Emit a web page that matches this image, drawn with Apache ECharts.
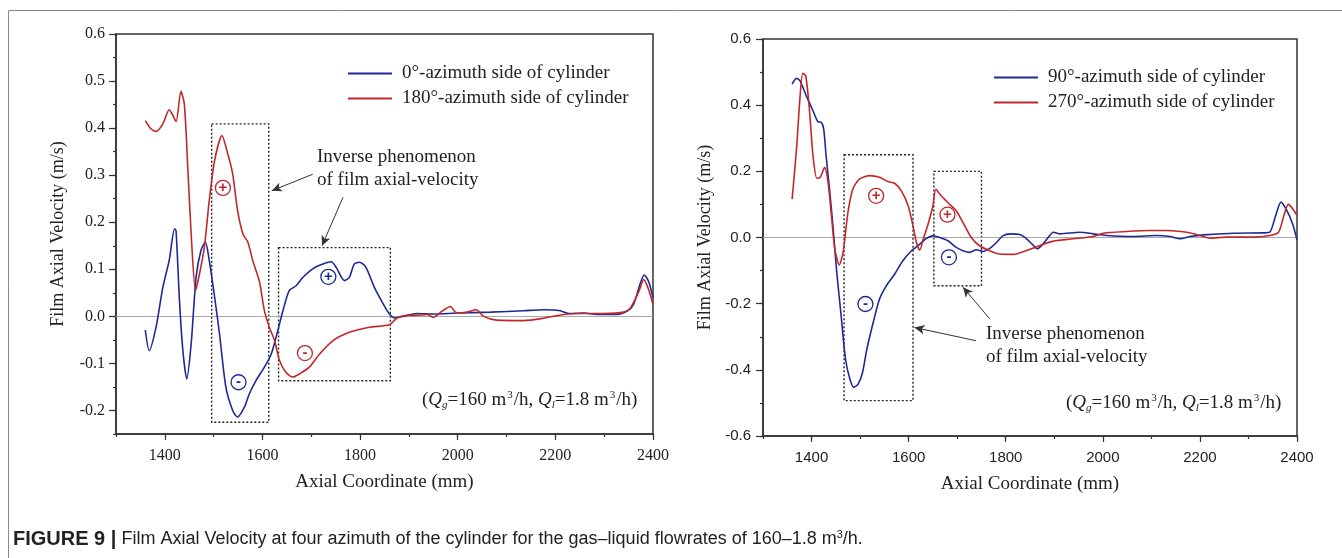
<!DOCTYPE html>
<html>
<head>
<meta charset="utf-8">
<script src="https://cdn.jsdelivr.net/npm/echarts@6/dist/echarts.min.js"></script>
<style>html,body{margin:0;padding:0;background:#fff}#c{width:1342px;height:558px}</style>
</head>
<body>
<div id="c"></div>
<script>
// ---- Data ----
const xTicks = [1400, 1600, 1800, 2000, 2200, 2400];
const yTicksLeft = [-0.2, -0.1, 0.0, 0.1, 0.2, 0.3, 0.4, 0.5, 0.6];
const yTicksRight = [-0.6, -0.4, -0.2, 0.0, 0.2, 0.4, 0.6];

const az0_x = [1360,1368,1382,1396,1409,1420,1423,1430,1437,1445,1454,1464,1474,1483,1491,1502,1512,1525,1539,1549,1563,1573,1587,1604,1618,1628,1642,1655,1669,1683,1703,1724,1741,1751,1768,1778,1788,1799,1812,1829,1847,1860,1870,1889,1916,1950,1998,2067,2135,2176,2210,2227,2258,2285,2326,2347,2360,2373,2382,2391,2400];
const az0_y = [-0.029,-0.073,-0.023,0.062,0.119,0.186,0.182,0.034,-0.073,-0.133,-0.058,0.083,0.140,0.158,0.119,0.041,-0.037,-0.150,-0.200,-0.214,-0.193,-0.165,-0.136,-0.108,-0.080,-0.044,0.012,0.055,0.065,0.083,0.101,0.111,0.116,0.104,0.076,0.083,0.111,0.115,0.104,0.062,0.027,0.005,-0.003,0.000,0.006,0.005,0.007,0.009,0.012,0.014,0.012,0.006,0.007,0.004,0.004,0.011,0.025,0.067,0.088,0.074,0.040];

const az180_x = [1360,1372,1382,1396,1409,1415,1423,1433,1440,1447,1454,1463,1471,1481,1491,1502,1517,1529,1539,1549,1560,1570,1580,1594,1604,1614,1625,1635,1648,1662,1676,1696,1717,1744,1778,1819,1860,1875,1896,1916,1937,1950,1968,1985,1998,2019,2038,2053,2080,2135,2176,2217,2258,2299,2340,2354,2371,2381,2391,2400];
const az180_y = [0.416,0.398,0.393,0.409,0.439,0.430,0.414,0.478,0.451,0.317,0.175,0.055,0.090,0.147,0.246,0.331,0.384,0.345,0.303,0.225,0.175,0.158,0.119,0.073,0.012,-0.023,-0.052,-0.094,-0.119,-0.129,-0.122,-0.108,-0.080,-0.052,-0.034,-0.023,-0.018,-0.004,0.002,0.002,0.004,-0.002,0.011,0.021,0.007,0.009,0.014,0.000,-0.008,-0.009,-0.004,0.004,0.006,0.006,0.009,0.018,0.053,0.078,0.057,0.025];

const az90_x = [1360,1369,1376,1389,1403,1413,1420,1425,1430,1437,1444,1452,1461,1470,1479,1487,1496,1505,1514,1527,1540,1554,1571,1588,1606,1623,1636,1650,1664,1681,1698,1712,1726,1739,1753,1767,1781,1794,1809,1829,1843,1857,1865,1877,1888,1898,1912,1953,1980,2008,2063,2111,2138,2159,2180,2207,2269,2331,2344,2355,2367,2379,2391,2400];
const az90_y = [0.464,0.481,0.474,0.429,0.383,0.350,0.348,0.328,0.247,0.146,0.035,-0.106,-0.237,-0.368,-0.428,-0.453,-0.443,-0.408,-0.337,-0.257,-0.186,-0.146,-0.111,-0.070,-0.040,-0.020,-0.003,0.005,0.000,-0.010,-0.030,-0.040,-0.045,-0.037,-0.042,-0.033,-0.015,0.005,0.011,0.009,-0.004,-0.024,-0.034,-0.019,0.001,0.016,0.011,0.016,0.011,0.006,0.003,0.006,0.003,-0.004,0.003,0.008,0.013,0.014,0.016,0.061,0.107,0.082,0.041,-0.007];

const az270_x = [1360,1369,1376,1382,1388,1395,1403,1411,1418,1427,1434,1441,1448,1457,1465,1475,1485,1499,1520,1540,1557,1571,1585,1599,1609,1616,1623,1630,1640,1650,1656,1667,1684,1698,1712,1729,1746,1767,1787,1816,1843,1871,1898,1939,1980,2001,2049,2097,2132,2173,2193,2221,2255,2310,2344,2362,2372,2382,2391,2400];
const az270_y = [0.116,0.267,0.419,0.496,0.489,0.398,0.247,0.179,0.182,0.212,0.167,0.066,-0.035,-0.083,-0.045,0.076,0.146,0.177,0.187,0.182,0.169,0.164,0.141,0.096,0.035,-0.015,-0.038,-0.005,0.040,0.096,0.146,0.126,0.101,0.081,0.045,0.000,-0.025,-0.040,-0.050,-0.051,-0.039,-0.024,-0.011,-0.004,0.003,0.013,0.018,0.021,0.021,0.016,0.009,-0.002,0.001,0.001,0.006,0.016,0.061,0.100,0.087,0.067];

const names = ['0°-azimuth side of cylinder', '180°-azimuth side of cylinder', '90°-azimuth side of cylinder', '270°-azimuth side of cylinder'];

// ---- Styling ----
const BLUE = '#1d2a96', RED = '#c0282c', INK = '#222';
const SERIF = 'Liberation Serif', SANS = 'Liberation Sans';
const zip = (xs, ys) => xs.map((x, i) => [x, ys[i]]);

function axesFor(gi, yMin, yMax, yMajor, yMinorInt, font, fsize, xMargin, yMargin) {
  const lbl = {fontFamily: font, fontSize: fsize, color: INK};
  const xs = [
    {gridIndex: gi, type: 'value', position: 'bottom', min: 1300, max: 2400,
     name: 'Axial Coordinate (mm)', nameLocation: 'middle', nameGap: 39,
     nameTextStyle: {fontFamily: SERIF, fontSize: 19, color: INK},
     axisLine: {show: true, onZero: false, lineStyle: {color: '#333', width: 1.5}},
     axisTick: {show: true, length: 6, customValues: xTicks, lineStyle: {color: '#333', width: 1.2}},
     axisLabel: {show: true, customValues: xTicks, margin: xMargin, formatter: v => String(v), ...lbl},
     splitLine: {show: false}},
    {gridIndex: gi, type: 'value', position: 'bottom', min: 1300, max: 2400, interval: 100,
     axisLine: {show: false, onZero: false}, axisLabel: {show: false}, splitLine: {show: false},
     axisTick: {show: true, length: 3, lineStyle: {color: '#333', width: 1.2}}}
  ];
  const ys = [
    {gridIndex: gi, type: 'value', position: 'left', min: yMin, max: yMax,
     name: 'Film Axial Velocity (m/s)', nameLocation: 'middle', nameGap: 49,
     nameTextStyle: {fontFamily: SERIF, fontSize: 18, color: INK},
     axisLine: {show: true, onZero: false, lineStyle: {color: '#333', width: 1.5}},
     axisTick: {show: true, length: 7, customValues: yMajor, lineStyle: {color: '#333', width: 1.2}},
     axisLabel: {show: true, customValues: yMajor, margin: yMargin, formatter: v => v.toFixed(1), ...lbl},
     splitLine: {show: false}},
    {gridIndex: gi, type: 'value', position: 'left', min: yMin, max: yMax, interval: yMinorInt,
     axisLine: {show: false, onZero: false}, axisLabel: {show: false}, splitLine: {show: false},
     axisTick: {show: true, length: 3, lineStyle: {color: '#333', width: 1.2}}}
  ];
  return {xs, ys};
}

const A = axesFor(0, -0.25, 0.6, yTicksLeft, 0.05, SERIF, 16, 14, 11);
const B = axesFor(1, -0.6, 0.6, yTicksRight, 0.1, SANS, 15, 14, 12);

function circ(coord, color, sign) {
  return {coord, symbol: 'circle', symbolSize: 15,
    itemStyle: {color: '#fff', borderColor: color, borderWidth: 1.3},
    label: {show: true, position: 'inside', formatter: sign, color: color,
      fontSize: 15, fontWeight: 'bold', fontFamily: SANS}};
}
const boxStyle = {color: 'rgba(0,0,0,0)', borderColor: '#222', borderWidth: 1.4, borderType: [2, 2]};
function arrow(a, b) { return [{coord: a, symbol: 'none'}, {coord: b, symbol: 'arrow'}]; }
const zeroLine = {silent: true, symbol: 'none', label: {show: false},
  lineStyle: {color: '#a8a8a8', width: 1, type: 'solid'}, data: [{yAxis: 0}], z: 1};
const arrowLine = (data) => ({silent: true, symbolSize: [7, 10], label: {show: false},
  lineStyle: {color: '#333', width: 1, type: 'solid'}, data});

function lineSeries(name, xi, yi, xs, ys, color, extra) {
  return Object.assign({name, type: 'line', xAxisIndex: xi, yAxisIndex: yi,
    data: zip(xs, ys), showSymbol: false, smooth: 0.25, z: 3,
    lineStyle: {color, width: 1.6}, itemStyle: {color}}, extra || {});
}

const condText = '({i|Q}{sub|g}=160 m{sup|3}/h, {i|Q}{sub|l}=1.8 m{sup|3}/h)';
const condRich = {
  i: {fontFamily: SERIF, fontSize: 19, fontStyle: 'italic', fill: INK},
  sub: {fontFamily: SERIF, fontSize: 11, fontStyle: 'italic', fill: INK, padding: [10, 0, 0, 0]},
  sup: {fontFamily: SERIF, fontSize: 11, fill: INK, padding: [0, 1, 9, 1]}
};
const CAPF = "'Liberation Sans Narrow', 'Liberation Sans'";

const option = {
  backgroundColor: '#fff',
  animation: false,
  grid: [
    {left: 116, top: 34, width: 537, height: 400, show: true, borderColor: '#333', borderWidth: 1.5, backgroundColor: 'transparent'},
    {left: 763, top: 39, width: 534, height: 397, show: true, borderColor: '#333', borderWidth: 1.5, backgroundColor: 'transparent'}
  ],
  xAxis: [...A.xs, ...B.xs],
  yAxis: [...A.ys, ...B.ys],
  legend: [
    {data: [names[0], names[1]], orient: 'vertical', left: 348, top: 64, padding: 0,
     icon: 'rect', itemWidth: 44, itemHeight: 2, itemGap: 6,
     textStyle: {fontFamily: SERIF, fontSize: 19, color: INK, lineHeight: 19, padding: [0, 0, 0, 5]}},
    {data: [names[2], names[3]], orient: 'vertical', left: 994, top: 68, padding: 0,
     icon: 'rect', itemWidth: 44, itemHeight: 2, itemGap: 6,
     textStyle: {fontFamily: SERIF, fontSize: 19, color: INK, lineHeight: 19, padding: [0, 0, 0, 5]}}
  ],
  series: [
    lineSeries(names[0], 0, 0, az0_x, az0_y, BLUE, {
      markLine: zeroLine,
      markArea: {silent: true, itemStyle: boxStyle, data: [
        [{coord: [1496, 0.409]}, {coord: [1613, -0.225]}],
        [{coord: [1633, 0.146]}, {coord: [1862, -0.137]}]]},
      markPoint: {silent: true, data: [circ([1735, 0.084], BLUE, '+'), circ([1551, -0.140], BLUE, '-')]}
    }),
    lineSeries(names[1], 0, 0, az180_x, az180_y, RED, {
      markLine: arrowLine([arrow([1703, 0.302], [1619, 0.267]), arrow([1765, 0.253], [1722, 0.150])]),
      markPoint: {silent: true, data: [circ([1519, 0.273], RED, '+'), circ([1687, -0.078], RED, '-')]}
    }),
    lineSeries(names[2], 2, 2, az90_x, az90_y, BLUE, {
      markLine: zeroLine,
      markArea: {silent: true, itemStyle: boxStyle, data: [
        [{coord: [1467, 0.250]}, {coord: [1609, -0.493]}],
        [{coord: [1652, 0.200]}, {coord: [1750, -0.146]}]]},
      markPoint: {silent: true, data: [circ([1683, -0.060], BLUE, '-'), circ([1511, -0.201], BLUE, '-')]}
    }),
    lineSeries(names[3], 2, 2, az270_x, az270_y, RED, {
      markLine: arrowLine([arrow([1739, -0.312], [1612, -0.272]), arrow([1767, -0.246], [1712, -0.150])]),
      markPoint: {silent: true, data: [circ([1533, 0.126], RED, '+'), circ([1680, 0.069], RED, '+')]}
    })
  ],
  graphic: [
    {type: 'line', shape: {x1: 8.5, y1: 10.5, x2: 1342, y2: 10.5}, style: {stroke: '#8a8a8a', lineWidth: 1}},
    {type: 'line', shape: {x1: 8.5, y1: 10.5, x2: 8.5, y2: 558}, style: {stroke: '#8a8a8a', lineWidth: 1}},
    {type: 'text', x: 317, y: 157, style: {text: 'Inverse phenomenon', fontFamily: SERIF, fontSize: 19, fill: INK, verticalAlign: 'middle'}},
    {type: 'text', x: 317, y: 180, style: {text: 'of film axial-velocity', fontFamily: SERIF, fontSize: 19, fill: INK, verticalAlign: 'middle'}},
    {type: 'text', x: 986, y: 334, style: {text: 'Inverse phenomenon', fontFamily: SERIF, fontSize: 19, fill: INK, verticalAlign: 'middle'}},
    {type: 'text', x: 986, y: 357, style: {text: 'of film axial-velocity', fontFamily: SERIF, fontSize: 19, fill: INK, verticalAlign: 'middle'}},
    {type: 'text', x: 422, y: 400, style: {text: condText, rich: condRich, fontFamily: SERIF, fontSize: 19, fill: INK, verticalAlign: 'middle'}},
    {type: 'text', x: 1066, y: 403, style: {text: condText, rich: condRich, fontFamily: SERIF, fontSize: 19, fill: INK, verticalAlign: 'middle'}},
    {type: 'text', x: 13, y: 539, style: {
      text: '{b|FIGURE 9 |} Film Axial Velocity at four azimuth of the cylinder for the gas–liquid flowrates of 160–1.8 m{sup|3}/h.',
      fontFamily: CAPF, fontSize: 18, fill: '#222', verticalAlign: 'middle',
      rich: {
        b: {fontFamily: CAPF, fontSize: 20, fontWeight: 'bold', fill: '#222'},
        sup: {fontFamily: CAPF, fontSize: 11, fill: '#222', padding: [0, 0, 9, 0]}
      }}}
  ]
};

const chart = echarts.init(document.getElementById('c'), null, {renderer: 'canvas'});
chart.setOption(option);
</script>
</body>
</html>
